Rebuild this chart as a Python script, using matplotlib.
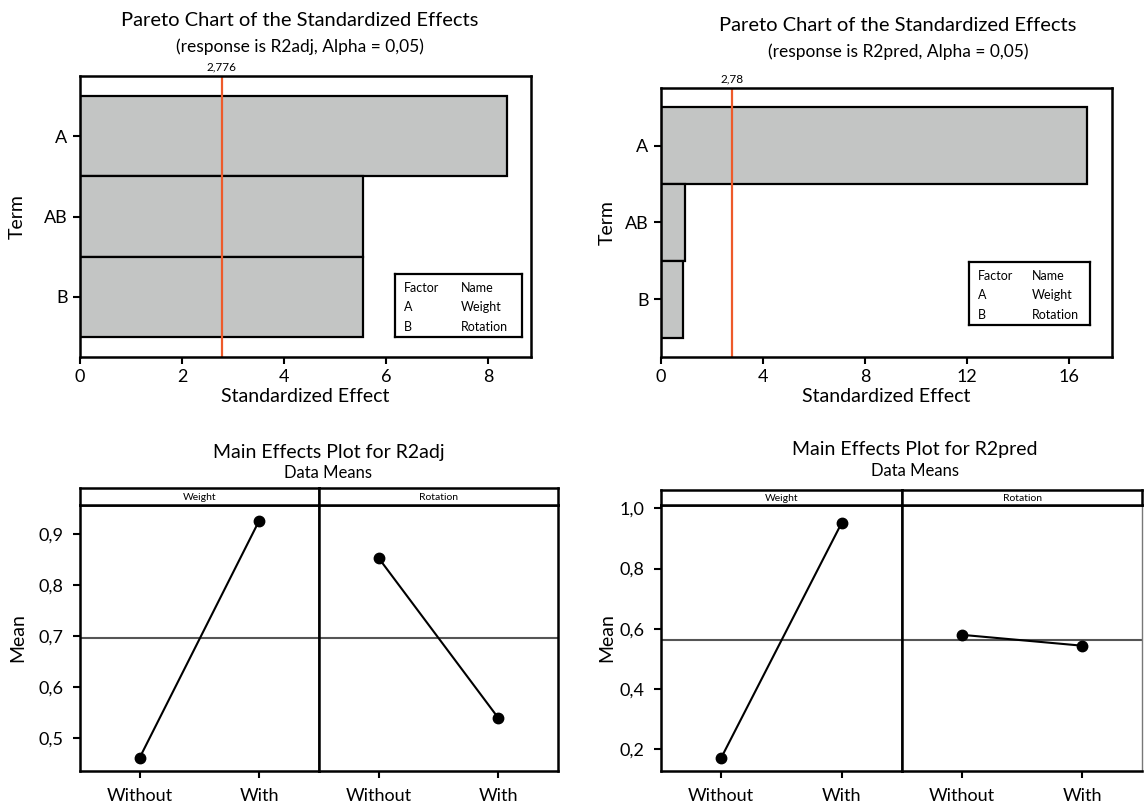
import matplotlib
matplotlib.use("Agg")
import matplotlib.pyplot as plt
import matplotlib.transforms as mtransforms

plt.rcParams["font.family"] = ["Lato", "DejaVu Sans"]

# ---- datos ----
terms = ["A", "AB", "B"]
effects_adj = [8.37, 5.55, 5.55]
effects_pred = [16.7, 0.94, 0.86]
crit_adj = 2.776
crit_pred = 2.78
crit_adj_label = "2,776"
crit_pred_label = "2,78"

factor_names = ["Weight", "Rotation"]
levels = ["Without", "With"]
means_adj = {"Weight": [0.461, 0.927], "Rotation": [0.853, 0.539]}
means_pred = {"Weight": [0.172, 0.952], "Rotation": [0.580, 0.544]}
grand_adj = 0.696
grand_pred = 0.562

yt_adj = [0.5, 0.6, 0.7, 0.8, 0.9]
yt_pred = [0.2, 0.4, 0.6, 0.8, 1.0]

bar_color = "#c3c5c4"
red = "#ee5a2a"
W, H = 1144, 802

fig = plt.figure(figsize=(W / 100, H / 100), dpi=100)


def box(x0, y0, x1, y1):
    # convierte pixeles (origen arriba-izquierda) a fracciones de figura
    return [x0 / W, 1 - y1 / H, (x1 - x0) / W, (y1 - y0) / H]


def pareto(px, effects, crit, crit_label, xticks, xmax, title_xy, sub, legend_px, label_x):
    ax = fig.add_axes(box(*px))
    ypos = list(range(len(terms)))
    ax.barh(ypos, effects, height=1.0, color=bar_color, edgecolor="black", linewidth=1.6)
    ax.axvline(crit, color=red, linewidth=1.6)
    ax.set_ylim(len(terms) - 0.25, -0.75)
    ax.set_xlim(0, xmax)
    ax.set_yticks(ypos)
    ax.set_yticklabels(terms, fontsize=13)
    ax.set_xticks(xticks)
    ax.set_xticklabels([str(t) for t in xticks], fontsize=13)
    ax.tick_params(direction="out", length=5, width=1.5, pad=4)
    for s in ax.spines.values():
        s.set_linewidth(1.8)
    ax.set_xlabel("Standardized Effect", fontsize=14, labelpad=2)
    ax.set_ylabel("Term", fontsize=14)
    ax.yaxis.set_label_coords((label_x - px[0]) / (px[2] - px[0]), 0.5)
    trans = mtransforms.blended_transform_factory(ax.transData, ax.transAxes)
    ax.text(crit, 1.012, crit_label, transform=trans, ha="center", va="bottom", fontsize=8.5)
    fig.text(title_xy[0], title_xy[1], "Pareto Chart of the Standardized Effects",
             ha="center", va="center", fontsize=14.5)
    fig.text(title_xy[0], title_xy[1] - 0.033, sub, ha="center", va="center", fontsize=12.5)
    # caja de leyenda de factores
    lg = fig.add_axes(box(*legend_px))
    lg.set_xticks([])
    lg.set_yticks([])
    for s in lg.spines.values():
        s.set_linewidth(1.6)
    rows = [("Factor", "Name"), ("A", "Weight"), ("B", "Rotation")]
    for i, (a, b) in enumerate(rows):
        yy = 0.78 - i * 0.31
        lg.text(0.07, yy, a, fontsize=9, va="center")
        lg.text(0.52, yy, b, fontsize=9, va="center")
    return ax


pareto((80, 76, 531, 357), effects_adj, crit_adj, crit_adj_label, [0, 2, 4, 6, 8], 8.84,
       (0.262, 0.975), "(response is R2adj, Alpha = 0,05)", (395, 274, 522, 337), 26)
pareto((661, 88, 1112, 357), effects_pred, crit_pred, crit_pred_label, [0, 4, 8, 12, 16], 17.7,
       (0.785, 0.968), "(response is R2pred, Alpha = 0,05)", (969, 262, 1090, 325), 616)


def main_effects(x0, xmid, x1, strip_top, means, grand, yticks, ylim, title, title_xy,
                 edge_grey, label_x):
    axes = []
    for k, (fname, xa, xb) in enumerate([(factor_names[0], x0, xmid), (factor_names[1], xmid, x1)]):
        ax = fig.add_axes(box(xa, 505, xb, 771))
        ax.plot([1, 2], means[fname], color="black", linewidth=1.5, marker="o",
                markersize=7.5, zorder=3)
        ax.axhline(grand, color="#555555", linewidth=1.5, zorder=2)
        ax.set_xlim(0.5, 2.5)
        ax.set_ylim(*ylim)
        ax.set_xticks([1, 2])
        ax.set_xticklabels(levels, fontsize=13)
        for s in ax.spines.values():
            s.set_linewidth(1.8)
        if k == 0:
            ax.set_yticks(yticks)
            ax.set_yticklabels([("%.1f" % v).replace(".", ",") for v in yticks], fontsize=13)
            ax.set_ylabel("Mean", fontsize=14)
            ax.yaxis.set_label_coords((label_x - xa) / (xb - xa), 0.5)
        else:
            ax.set_yticks([])
            if edge_grey:
                ax.spines["right"].set_color("#777777")
                ax.spines["right"].set_linewidth(1.0)
        ax.tick_params(direction="out", length=5, width=1.5, pad=7)
        # encabezado del panel
        st = fig.add_axes(box(xa, strip_top, xb, 505))
        st.set_xticks([])
        st.set_yticks([])
        for s in st.spines.values():
            s.set_linewidth(1.8)
        st.text(0.5, 0.45, fname, ha="center", va="center", fontsize=7.5)
        axes.append(ax)
    fig.text(title_xy[0], title_xy[1], title, ha="center", va="center", fontsize=14)
    fig.text(title_xy[0], title_xy[1] - 0.026, "Data Means", ha="center", va="center", fontsize=12)
    return axes


main_effects(80, 319, 558, 488, means_adj, grand_adj, yt_adj, (0.4346, 0.9575),
             "Main Effects Plot for R2adj", (0.287, 0.436), False, 26)
main_effects(661, 902, 1142, 490, means_pred, grand_pred, yt_pred, (0.128, 1.011),
             "Main Effects Plot for R2pred", (0.80, 0.439), True, 615)

plt.savefig("out.png", dpi=100)
